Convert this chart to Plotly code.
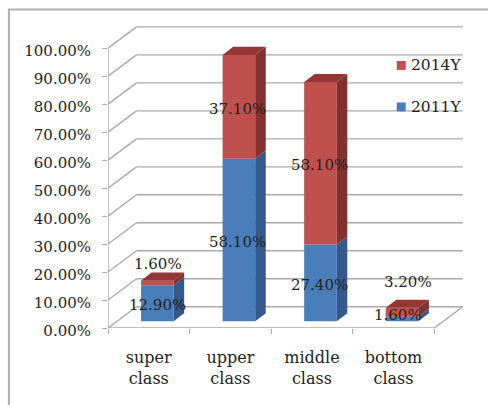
import plotly.graph_objects as go

# Chart data
categories = ["super<br>class", "upper<br>class", "middle<br>class", "bottom<br>class"]
series_2011 = [12.9, 58.1, 27.4, 1.6]
series_2014 = [1.6, 37.1, 58.1, 3.2]
y_ticks = [0, 10, 20, 30, 40, 50, 60, 70, 80, 90, 100]
y_tick_labels = [f"{t:.2f}%" for t in y_ticks]

# Oblique projection settings, in axis units
WALL_DX, WALL_DY = 0.35, 7.6
BAR_DX, BAR_DY = 0.129, 2.9
BAR_START, BAR_W = 0.405, 0.40
FLOOR_LIFT = 2.4

BLUE, BLUE_SIDE = "#4a7ebb", "#35598a"
RED, RED_SIDE, RED_TOP = "#c0504d", "#7f3230", "#943634"
GRID = "#a9a9a9"
TEXT = "#222222"
FONT = "DejaVu Serif"

W, H = 488, 405
M_L, M_R, M_T, M_B = 108, 25.3, 25.5, 77.3
plot_w, plot_h = W - M_L - M_R, H - M_T - M_B


def line(x0, y0, x1, y1, width=1.4):
    return dict(type="line", xref="x", yref="y", x0=x0, y0=y0, x1=x1, y1=y1,
                layer="below", line=dict(color=GRID, width=width))


# Walls and floor
shapes = []
for t in y_ticks:
    shapes.append(line(0, t, WALL_DX, t + WALL_DY))
    shapes.append(line(WALL_DX, t + WALL_DY, 4 + WALL_DX, t + WALL_DY))
shapes.append(line(0, 0, 0, 100))
shapes.append(line(0, 0, 4, 0))
shapes.append(line(4, 0, 4 + WALL_DX, WALL_DY))

# Chart-area border, running off the right and bottom of the page
shapes.append(dict(
    type="rect", xref="paper", yref="paper", layer="below",
    x0=(9 - M_L) / plot_w, x1=(W + 20 - M_L) / plot_w,
    y0=-(M_B + 20) / plot_h, y1=1 + (M_T - 9) / plot_h,
    line=dict(color="#b0b0b0", width=2), fillcolor="rgba(0,0,0,0)",
))

fig = go.Figure()
lefts = [i + BAR_START for i in range(len(categories))]
centers = [x + BAR_W / 2 for x in lefts]
bases_2011 = [FLOOR_LIFT] * len(categories)
bases_2014 = [FLOOR_LIFT + v for v in series_2011]

fig.add_bar(name="2011Y", x=centers, y=series_2011, base=bases_2011, width=BAR_W,
            marker=dict(color=BLUE, line=dict(width=0)))
fig.add_bar(name="2014Y", x=centers, y=series_2014, base=bases_2014, width=BAR_W,
            marker=dict(color=RED, line=dict(width=0)))


def poly(xs, ys, color):
    fig.add_scatter(x=xs, y=ys, mode="lines", fill="toself", fillcolor=color,
                    line=dict(width=0, color=color), hoverinfo="skip", showlegend=False)


# Side faces of both segments, then the top face of each stack
for i, x in enumerate(lefts):
    r = x + BAR_W
    for base, val, col in ((bases_2011[i], series_2011[i], BLUE_SIDE),
                           (bases_2014[i], series_2014[i], RED_SIDE)):
        poly([r, r + BAR_DX, r + BAR_DX, r, r],
             [base, base + BAR_DY, base + val + BAR_DY, base + val, base], col)
    top = bases_2014[i] + series_2014[i]
    poly([x, r, r + BAR_DX, x + BAR_DX, x],
         [top, top, top + BAR_DY, top + BAR_DY, top], RED_TOP)

# Value labels
label_shift_2011 = [(0, -2), (-1, -2), (-1, -2), (-4, 4)]
label_shift_2014 = [(1, 17), (-1, -2), (-1, -2), (6, 26)]
annotations = []
for i, c in enumerate(centers):
    for base, val, (dx, dy), anchor_top in (
        (bases_2011[i], series_2011[i], label_shift_2011[i], False),
        (bases_2014[i], series_2014[i], label_shift_2014[i], i in (0, 3)),
    ):
        y = base + val if anchor_top else base + val / 2
        annotations.append(dict(
            x=c, y=y, xref="x", yref="y", text=f"{val:.2f}%", showarrow=False,
            xshift=dx, yshift=dy, font=dict(family=FONT, size=15, color=TEXT),
        ))

# Series key
key = [("2014Y", RED, 65), ("2011Y", BLUE, 106.5)]
for name, color, py in key:
    annotations.append(dict(
        xref="paper", yref="paper", x=(408.5 - M_L) / plot_w, y=1 - (py - M_T) / plot_h,
        xanchor="left", yanchor="middle", text=name, showarrow=False,
        font=dict(family=FONT, size=15.5, color=TEXT),
    ))
    shapes.append(dict(
        type="rect", xref="paper", yref="paper", layer="above",
        x0=(396.5 - M_L) / plot_w, x1=(405.5 - M_L) / plot_w,
        y0=1 - (py + 4.5 - M_T) / plot_h, y1=1 - (py - 4.5 - M_T) / plot_h,
        fillcolor=color, line=dict(width=0),
    ))

fig.update_layout(
    width=W, height=H, barmode="overlay", showlegend=False,
    margin=dict(l=M_L, r=M_R, t=M_T, b=M_B, autoexpand=False),
    paper_bgcolor="white", plot_bgcolor="rgba(0,0,0,0)",
    shapes=shapes, annotations=annotations,
    xaxis=dict(
        range=[0, plot_w / 81.5], showgrid=False, zeroline=False, showline=False,
        tickmode="array", tickvals=[0.5, 1.5, 2.5, 3.5], ticktext=categories,
        ticks="outside", ticklen=15, tickcolor="rgba(0,0,0,0)",
        minor=dict(tickmode="array", tickvals=[0, 1, 2, 3, 4], ticks="outside",
                   ticklen=5, tickwidth=1.4, tickcolor=GRID, showgrid=False),
        tickfont=dict(family=FONT, size=16, color=TEXT),
    ),
    yaxis=dict(
        range=[0, plot_h / 2.8], showgrid=False, zeroline=False, showline=False,
        tickmode="array", tickvals=y_ticks, ticktext=y_tick_labels,
        ticks="outside", ticklen=5, tickwidth=1.4, tickcolor=GRID,
        ticklabelstandoff=8, ticklabelshift=3,
        tickfont=dict(family=FONT, size=15, color=TEXT),
    ),
)

fig.write_html("out.html", config=dict(displayModeBar=False))
